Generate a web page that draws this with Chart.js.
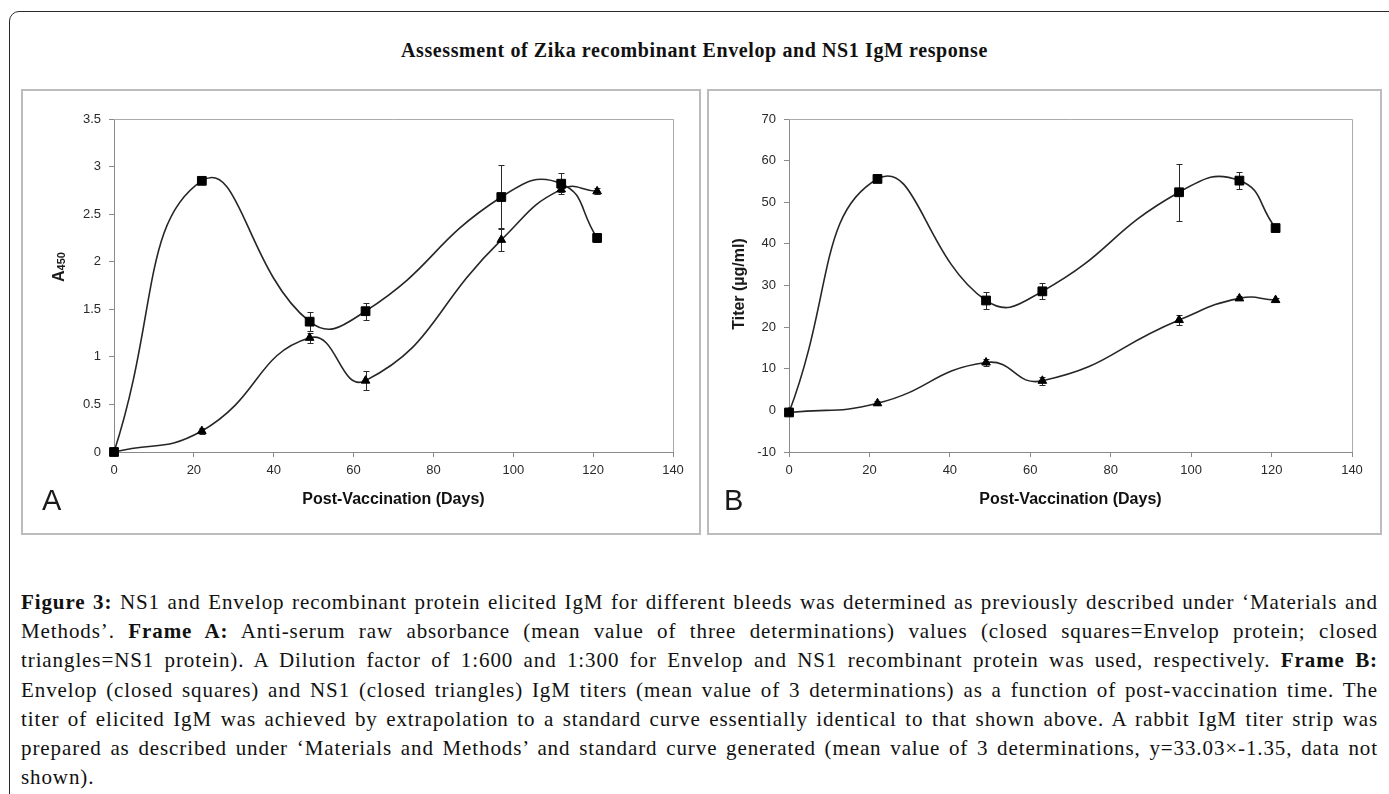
<!DOCTYPE html>
<html>
<head>
<meta charset="utf-8">
<title>Assessment of Zika recombinant Envelop and NS1 IgM response</title>
<script src="https://cdn.jsdelivr.net/npm/chart.js@4.4.1/dist/chart.umd.min.js"></script>
<style>
  html, body { margin: 0; padding: 0; background: #fff; }
  body { width: 1389px; height: 794px; overflow: hidden; position: relative; }
  #frame { position: absolute; left: 9px; top: 11px; width: 1420px; height: 830px;
           border: 1.5px solid #2a2a2a; border-radius: 10px; box-sizing: border-box; }
  #title { position: absolute; left: 0; top: 40px; width: 1389px; text-align: center;
           font-family: "Liberation Serif", serif; font-weight: bold; font-size: 20px;
           line-height: 20px; letter-spacing: 0.6px; color: #111; white-space: nowrap; }
  .panel { position: absolute; top: 89px; height: 446px; border: 2px solid #bcbcbc; box-sizing: border-box; }
  #panelA { left: 21px; width: 680px; }
  #panelB { left: 707px; width: 675px; }
  .panel canvas { position: absolute; left: 0; top: 0; }
  #caption { position: absolute; left: 21px; top: 588px; width: 1357px;
             font-family: "Liberation Serif", serif; font-size: 21px; line-height: 29.2px;
             letter-spacing: 0.9px; color: #111; }
  #caption .ln { white-space: nowrap; }
</style>
</head>
<body>
<div id="frame"></div>
<div id="title">Assessment of Zika recombinant Envelop and NS1 IgM response</div>
<div class="panel" id="panelA"><canvas id="chartA" width="676" height="442"></canvas></div>
<div class="panel" id="panelB"><canvas id="chartB" width="671" height="442"></canvas></div>
<div id="caption">
  <div class="ln just"><span><b>Figure 3:</b> NS1 and Envelop recombinant protein elicited IgM for different bleeds was determined as previously described under ‘Materials and</span></div>
  <div class="ln just"><span>Methods’. <b>Frame A:</b> Anti-serum raw absorbance (mean value of three determinations) values (closed squares=Envelop protein; closed</span></div>
  <div class="ln just"><span>triangles=NS1 protein). A Dilution factor of 1:600 and 1:300 for Envelop and NS1 recombinant protein was used, respectively. <b>Frame B:</b></span></div>
  <div class="ln just"><span>Envelop (closed squares) and NS1 (closed triangles) IgM titers (mean value of 3 determinations) as a function of post-vaccination time. The</span></div>
  <div class="ln just"><span>titer of elicited IgM was achieved by extrapolation to a standard curve essentially identical to that shown above. A rabbit IgM titer strip was</span></div>
  <div class="ln just"><span>prepared as described under ‘Materials and Methods’ and standard curve generated (mean value of 3 determinations, y=33.03×-1.35, data not</span></div>
  <div class="ln"><span>shown).</span></div>
</div>

<script>
// Bleed days (post-vaccination)
const days = [0, 22, 49, 63, 97, 112, 121];

// Frame A: raw absorbance at 450 nm
const envelopA    = [0, 2.85, 1.37, 1.48, 2.68, 2.82, 2.25];
const envelopAErr = [0.01, 0.02, 0.10, 0.09, 0.34, 0.11, 0.04];
const ns1A        = [0, 0.22, 1.20, 0.75, 2.23, 2.76, 2.74];
const ns1AErr     = [0.01, 0.03, 0.05, 0.10, 0.12, 0.03, 0.03];

// Frame B: IgM titer (µg/ml)
const envelopB    = [-0.5, 55.6, 26.4, 28.6, 52.4, 55.2, 43.8];
const envelopBErr = [0.3, 0.5, 2.0, 1.9, 6.9, 2.1, 0.8];
const ns1B        = [-0.5, 1.7, 11.5, 7.1, 21.7, 26.9, 26.5];
const ns1BErr     = [0.2, 0.5, 0.8, 1.0, 1.3, 0.5, 0.4];

// Axis tick values
const xTicks  = [0, 20, 40, 60, 80, 100, 120, 140];
const yTicksA = [0, 0.5, 1, 1.5, 2, 2.5, 3, 3.5];
const yTicksB = [-10, 0, 10, 20, 30, 40, 50, 60, 70];

Chart.defaults.font.family = '"Liberation Sans", Arial, sans-serif';

// Plot frame, error bars, rotated y title and the panel letter
function panelDecor(o) {
  return {
    id: 'panelDecor',
    beforeDatasetsDraw(chart) {
      const { ctx, chartArea: a, scales: { x, y } } = chart;
      ctx.save();
      ctx.strokeStyle = '#ababab';
      ctx.lineWidth = 1;
      ctx.beginPath();
      ctx.moveTo(a.left, Math.round(a.top) + 0.5);
      ctx.lineTo(Math.round(a.right) + 0.5, Math.round(a.top) + 0.5);
      ctx.lineTo(Math.round(a.right) + 0.5, a.bottom);
      ctx.stroke();

      ctx.strokeStyle = '#2b2b2b';
      chart.data.datasets.forEach(ds => {
        ds.data.forEach((pt, i) => {
          const e = ds.errors[i];
          if (!e) return;
          const px = Math.round(x.getPixelForValue(pt.x)) + 0.5;
          const yt = Math.round(y.getPixelForValue(pt.y + e)) + 0.5;
          const yb = Math.round(y.getPixelForValue(pt.y - e)) + 0.5;
          ctx.beginPath();
          ctx.moveTo(px, yt); ctx.lineTo(px, yb);
          ctx.moveTo(px - 3, yt); ctx.lineTo(px + 3, yt);
          ctx.moveTo(px - 3, yb); ctx.lineTo(px + 3, yb);
          ctx.stroke();
        });
      });
      ctx.restore();
    },
    afterDraw(chart) {
      const { ctx } = chart;
      ctx.save();
      ctx.fillStyle = '#1a1a1a';
      ctx.translate(o.titleX, o.titleY);
      ctx.rotate(-Math.PI / 2);
      ctx.textBaseline = 'alphabetic';
      let total = 0;
      const widths = o.titleParts.map(p => {
        ctx.font = 'bold ' + p.size + 'px "Liberation Sans", Arial, sans-serif';
        const w = ctx.measureText(p.text).width;
        total += w;
        return w;
      });
      let cx = -total / 2;
      o.titleParts.forEach((p, i) => {
        ctx.font = 'bold ' + p.size + 'px "Liberation Sans", Arial, sans-serif';
        ctx.fillText(p.text, cx, 6 + p.dy);
        cx += widths[i];
      });
      ctx.restore();

      ctx.save();
      ctx.font = '29px "Liberation Sans Narrow", "Liberation Sans", sans-serif';
      ctx.fillStyle = '#1a1a1a';
      ctx.textBaseline = 'alphabetic';
      ctx.fillText(o.letter, o.letterX, o.letterY);
      ctx.restore();
    }
  };
}

function series(values, errors, style, radius) {
  return {
    data: days.map((d, i) => ({ x: d, y: values[i] })),
    errors: errors,
    showLine: true,
    tension: 0.5,
    cubicInterpolationMode: 'default',
    borderColor: '#262626',
    borderWidth: 1.6,
    pointStyle: style,
    pointRadius: radius,
    pointBackgroundColor: '#000',
    pointBorderColor: '#000',
    pointBorderWidth: 1,
    clip: false
  };
}

function buildPanel(id, c) {
  return new Chart(document.getElementById(id), {
    type: 'scatter',
    data: {
      datasets: [
        series(c.env, c.envErr, 'rect', 6.2),
        series(c.ns1, c.ns1Err, 'triangle', 5)
      ]
    },
    options: {
      responsive: false,
      animation: false,
      events: [],
      layout: { padding: c.padding },
      plugins: { legend: { display: false }, tooltip: { enabled: false } },
      scales: {
        x: {
          type: 'linear', min: 0, max: 140,
          afterBuildTicks: s => { s.ticks = xTicks.map(v => ({ value: v })); },
          afterFit: s => { s.height = 60; },
          ticks: { font: { size: 13 }, color: '#2a2a2a', padding: 5.7, maxRotation: 0, autoSkip: false,
                   callback: v => String(v) },
          grid: { display: true, drawOnChartArea: false, drawTicks: true, tickLength: 5, color: '#8a8a8a' },
          border: { display: true, color: '#8a8a8a', width: 1 },
          title: { display: true, text: 'Post-Vaccination (Days)', color: '#111',
                   font: { size: 16, weight: 'bold' }, padding: { top: 0, bottom: 2.4 } }
        },
        y: {
          type: 'linear', min: c.yMin, max: c.yMax,
          afterBuildTicks: s => { s.ticks = c.yTicks.map(v => ({ value: v })); },
          afterFit: s => { s.width = 40; },
          ticks: { font: { size: 13 }, color: '#2a2a2a', padding: 8, callback: v => String(v) },
          grid: { display: true, drawOnChartArea: false, drawTicks: true, tickLength: 5, color: '#8a8a8a' },
          border: { display: true, color: '#8a8a8a', width: 1 }
        }
      }
    },
    plugins: [panelDecor(c.decor)]
  });
}

buildPanel('chartA', {
  env: envelopA, envErr: envelopAErr, ns1: ns1A, ns1Err: ns1AErr,
  yMin: 0, yMax: 3.5, yTicks: yTicksA,
  padding: { left: 51, right: 26, top: 28, bottom: 21 },
  decor: {
    titleX: 35, titleY: 176,
    titleParts: [{ text: 'A', size: 16, dy: 0 }, { text: '450', size: 11, dy: 1 }],
    letter: 'A', letterX: 19, letterY: 419
  }
});

buildPanel('chartB', {
  env: envelopB, envErr: envelopBErr, ns1: ns1B, ns1Err: ns1BErr,
  yMin: -10, yMax: 70, yTicks: yTicksB,
  padding: { left: 40, right: 28, top: 28, bottom: 21 },
  decor: {
    titleX: 29, titleY: 193,
    titleParts: [{ text: 'Titer (µg/ml)', size: 16, dy: 0 }],
    letter: 'B', letterX: 15, letterY: 419
  }
});

// Spread the words of each full caption line across the text column
const columnWidth = 1357;
document.querySelectorAll('#caption .ln.just').forEach(el => {
  const span = el.firstElementChild;
  const natural = span.getBoundingClientRect().width;
  const gaps = span.textContent.split(' ').length - 1;
  if (gaps > 0) el.style.wordSpacing = ((columnWidth - natural) / gaps) + 'px';
});
</script>
</body>
</html>
